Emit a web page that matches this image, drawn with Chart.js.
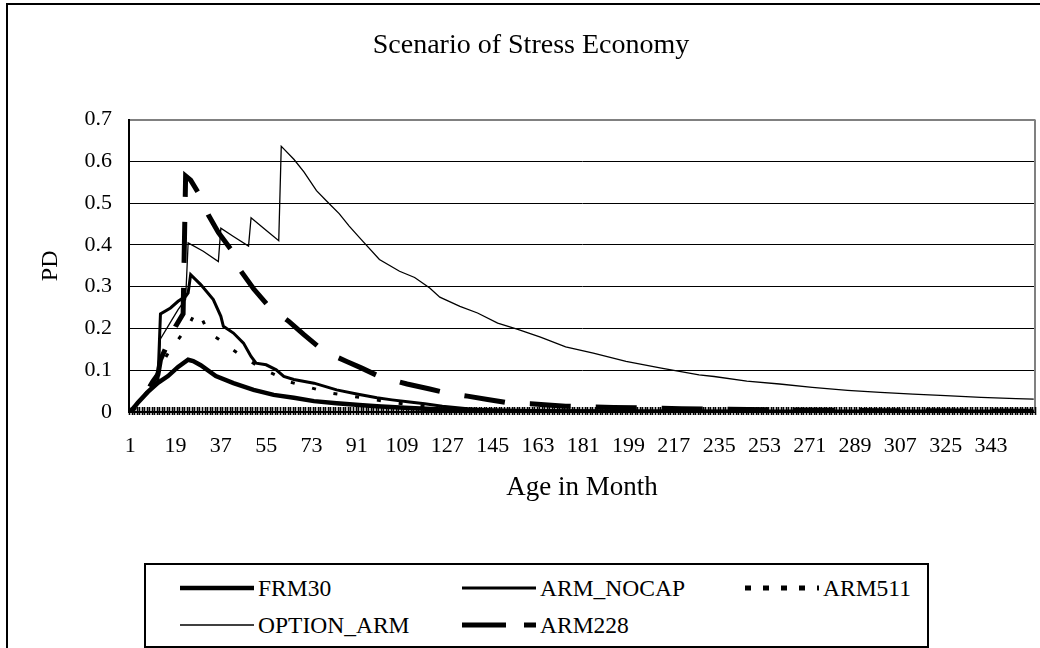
<!DOCTYPE html>
<html>
<head>
<meta charset="utf-8">
<script src="https://cdn.jsdelivr.net/npm/chart.js@4.4.1/dist/chart.umd.min.js"></script>
<style>
  html, body { margin: 0; padding: 0; background: #fff; width: 1040px; height: 648px; overflow: hidden; }
  #frame { position: absolute; left: 6px; top: 3px; width: 1060px; height: 700px; border: 2px solid #000; }
  #c { position: absolute; left: 0; top: 0; }
  #legend { position: absolute; left: 0; top: 0; }
</style>
</head>
<body>
<div id="frame"></div>
<canvas id="c" width="1040" height="560"></canvas>
<svg id="legend" width="1040" height="648"></svg>
<script>
// ---- data ----
var chartTitle = 'Scenario of Stress Economy';
var xTitle = 'Age in Month';
var yTitle = 'PD';
var monthCount = 360;
var xTickLabels = [1, 19, 37, 55, 73, 91, 109, 127, 145, 163, 181, 199, 217, 235, 253, 271, 289, 307, 325, 343];
var yTicks = [0, 0.1, 0.2, 0.3, 0.4, 0.5, 0.6, 0.7];
var yTickLabels = ['0', '0.1', '0.2', '0.3', '0.4', '0.5', '0.6', '0.7'];

var seriesNames = ['FRM30', 'ARM_NOCAP', 'ARM511', 'OPTION_ARM', 'ARM228'];

var frm30Months = [1, 4, 8, 12, 16, 20, 24, 26, 29, 35, 42, 50, 58, 66, 74, 83, 92, 99, 110, 125, 140, 160, 200, 260, 360];
var frm30Values = [0, 0.022, 0.048, 0.07, 0.086, 0.108, 0.125, 0.122, 0.112, 0.086, 0.069, 0.053, 0.041, 0.034, 0.026, 0.021, 0.017, 0.014, 0.010, 0.006, 0.004, 0.002, 0.001, 0.0005, 0.0003];

var nocapMonths = [1, 4, 8, 12, 13, 17, 20, 23, 24, 25, 29, 34, 37, 38, 42, 46, 49, 51, 55, 59, 62, 66, 74, 83, 91, 99, 105, 112, 118, 125, 135, 145, 160, 200, 360];
var nocapValues = [0, 0.022, 0.048, 0.075, 0.235, 0.249, 0.265, 0.277, 0.285, 0.329, 0.305, 0.269, 0.229, 0.205, 0.189, 0.165, 0.133, 0.117, 0.113, 0.101, 0.085, 0.078, 0.069, 0.053, 0.043, 0.034, 0.029, 0.024, 0.020, 0.014, 0.008, 0.004, 0.002, 0.001, 0.0005];

var arm511Months = [1, 5, 10, 13, 16, 19, 22, 24, 27, 29, 32, 36, 39, 46, 54, 60, 63, 71, 80, 89, 96, 103, 110, 118, 130, 145, 165, 200, 360];
var arm511Values = [0, 0.025, 0.07, 0.11, 0.14, 0.165, 0.19, 0.205, 0.24, 0.23, 0.19, 0.175, 0.161, 0.131, 0.102, 0.085, 0.074, 0.061, 0.046, 0.038, 0.031, 0.025, 0.019, 0.014, 0.008, 0.004, 0.002, 0.001, 0];

var optionMonths = [1, 4, 8, 12, 13, 17, 20, 23, 24, 30, 36, 37, 42, 48, 49, 54, 60, 61, 62, 66, 70, 75, 79, 84, 88, 92, 100, 108, 114, 120, 124, 132, 139, 147, 155, 164, 174, 185, 198, 212, 227, 233, 246, 259, 272, 286, 299, 312, 325, 339, 353, 360];
var optionValues = [0, 0.022, 0.048, 0.075, 0.175, 0.215, 0.245, 0.27, 0.405, 0.385, 0.36, 0.44, 0.42, 0.397, 0.465, 0.44, 0.41, 0.636, 0.63, 0.605, 0.575, 0.53, 0.505, 0.475, 0.445, 0.418, 0.365, 0.337, 0.322, 0.297, 0.275, 0.253, 0.237, 0.213, 0.198, 0.179, 0.156, 0.141, 0.121, 0.105, 0.089, 0.085, 0.074, 0.067, 0.059, 0.052, 0.047, 0.043, 0.039, 0.035, 0.032, 0.031];

var arm228Months = [1, 5, 10, 12, 13, 16, 19, 22, 23, 25, 28, 32, 36, 41, 45, 50, 56, 64, 70, 78, 87, 93, 100, 111, 120, 127, 135, 143, 151, 160, 174, 193, 220, 260, 300, 360];
var arm228Values = [0, 0.025, 0.073, 0.09, 0.125, 0.165, 0.205, 0.235, 0.565, 0.555, 0.525, 0.472, 0.43, 0.389, 0.337, 0.295, 0.253, 0.217, 0.185, 0.145, 0.121, 0.105, 0.085, 0.067, 0.055, 0.045, 0.038, 0.03, 0.022, 0.02, 0.014, 0.011, 0.008, 0.005, 0.003, 0.002];

function pts(months, values) {
  return months.map(function(m, i) { return { x: m, y: values[i] }; });
}

var styles = [
  { width: 4.5, dash: [], offset: 0 },
  { width: 3, dash: [], offset: 0 },
  { width: 3, dash: [4, 18], offset: 0 },
  { width: 1.3, dash: [], offset: 0 },
  { width: 5, dash: [41, 25], offset: 34 }
];
var seriesData = [
  pts(frm30Months, frm30Values),
  pts(nocapMonths, nocapValues),
  pts(arm511Months, arm511Values),
  pts(optionMonths, optionValues),
  pts(arm228Months, arm228Values)
];

Chart.defaults.font.family = "'Liberation Serif', 'Times New Roman', serif";
Chart.defaults.color = '#000';

// tick marks between every month along the category axis
var tickBand = {
  id: 'tickBand',
  afterDatasetsDraw: function(chart) {
    var x = chart.scales.x, y0 = chart.scales.y.getPixelForValue(0), ctx = chart.ctx;
    ctx.save();
    ctx.strokeStyle = '#000';
    ctx.lineWidth = 1.6;
    ctx.beginPath();
    for (var m = 0; m <= monthCount; m++) {
      var px = Math.round(x.getPixelForValue(m + 0.5)) + 0.5;
      ctx.moveTo(px, y0 - 5);
      ctx.lineTo(px, y0 + 3);
    }
    ctx.stroke();
    ctx.restore();
  }
};

// grey right edge of the plot area
var plotFrame = {
  id: 'plotFrame',
  beforeDatasetsDraw: function(chart) {
    var a = chart.chartArea, ctx = chart.ctx;
    ctx.save();
    ctx.strokeStyle = '#808080';
    ctx.lineWidth = 2;
    ctx.beginPath();
    ctx.moveTo(a.right, a.top);
    ctx.lineTo(a.right, a.bottom);
    ctx.stroke();
    ctx.restore();
  }
};

new Chart(document.getElementById('c'), {
  type: 'line',
  data: {
    datasets: seriesNames.map(function(name, i) {
      return {
        label: name,
        data: seriesData[i],
        borderColor: '#000',
        borderWidth: styles[i].width,
        borderDash: styles[i].dash,
        borderDashOffset: styles[i].offset,
        borderCapStyle: 'butt',
        pointRadius: 0,
        tension: 0,
        fill: false
      };
    })
  },
  options: {
    responsive: false,
    animation: false,
    layout: { padding: { left: 27, right: 5, top: 0, bottom: 0 } },
    plugins: {
      legend: { display: false },
      tooltip: { enabled: false },
      title: {
        display: true,
        text: chartTitle,
        color: '#000',
        font: { size: 28, weight: 'normal' },
        padding: { top: 29, bottom: 57 }
      }
    },
    scales: {
      x: {
        type: 'linear',
        min: 0.5,
        max: monthCount + 0.5,
        afterBuildTicks: function(s) { s.ticks = xTickLabels.map(function(v) { return { value: v }; }); },
        afterFit: function(s) { s.height = 148; },
        ticks: {
          autoSkip: false, maxRotation: 0, padding: 21, color: '#000',
          font: { size: 22 },
          callback: function(v) { return String(v); }
        },
        grid: { display: true, drawOnChartArea: false, drawTicks: false },
        border: { display: true, color: '#000', width: 2 },
        title: { display: true, text: xTitle, color: '#000', font: { size: 27 }, padding: { top: 0, bottom: 56 } }
      },
      y: {
        min: 0,
        max: 0.7,
        afterBuildTicks: function(s) { s.ticks = yTicks.map(function(v) { return { value: v }; }); },
        afterFit: function(s) { s.width = 102; },
        ticks: {
          padding: 17, color: '#000',
          font: { size: 22 },
          callback: function(v, i) { return yTickLabels[i]; }
        },
        grid: {
          drawTicks: false,
          color: function(ctx) { return ctx.tick && ctx.tick.value === 0.7 ? '#808080' : '#000'; },
          lineWidth: function(ctx) { return ctx.tick && ctx.tick.value === 0.7 ? 2 : 1; }
        },
        border: { display: true, color: '#000', width: 2 },
        title: { display: true, text: yTitle, color: '#000', font: { size: 24 }, padding: { top: 9, bottom: 0 } }
      }
    }
  },
  plugins: [tickBand, plotFrame]
});

// legend box
var svg = document.getElementById('legend');
var NS = 'http://www.w3.org/2000/svg';
function el(tag, attrs, text) {
  var e = document.createElementNS(NS, tag);
  for (var k in attrs) e.setAttribute(k, attrs[k]);
  if (text) e.textContent = text;
  svg.appendChild(e);
  return e;
}
el('rect', { x: 145, y: 564, width: 783, height: 83, fill: '#fff', stroke: '#000', 'stroke-width': 2 });
var legendPos = [[180, 588], [462, 588], [745, 588], [180, 625], [462, 625]];
var legendDash = ['', '', '6 12', '', '44 18'];
var legendWidth = [4.5, 3, 5, 1.3, 5];
seriesNames.forEach(function(name, i) {
  var p = legendPos[i];
  var a = { x1: p[0], y1: p[1], x2: p[0] + 74, y2: p[1], stroke: '#000', 'stroke-width': legendWidth[i] };
  if (legendDash[i]) a['stroke-dasharray'] = legendDash[i];
  el('line', a);
  el('text', { x: p[0] + 78, y: p[1] + 8, 'font-family': 'Liberation Serif', 'font-size': 23.5, fill: '#000' }, name);
});
</script>
</body>
</html>
